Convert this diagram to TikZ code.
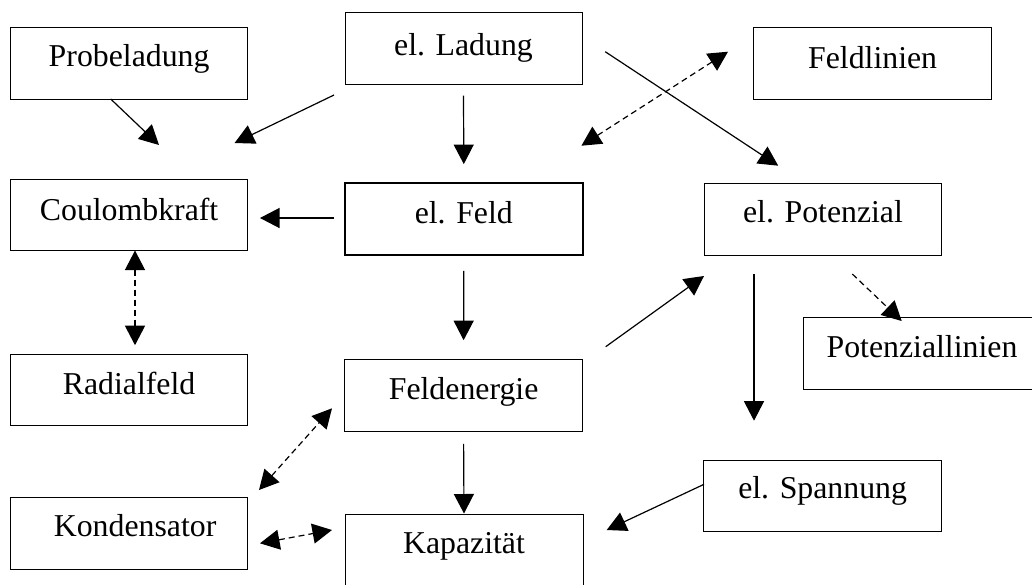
\documentclass[tikz,border=0pt]{standalone}
\usepackage{fontspec}
\setmainfont{Liberation Serif}
\usetikzlibrary{arrows.meta}
\begin{document}
\begin{tikzpicture}[x=1pt,y=-1pt,
  box/.style={draw, line width=1pt, rectangle, inner xsep=0pt, inner ysep=0pt, anchor=base,
    font=\fontsize{31.8}{36}\selectfont},
  tip/.tip={Triangle[length=19.5pt,width=20pt]},
  arr/.style={line width=1.2pt, -tip},
  darr/.style={line width=1.2pt, dash pattern=on 6pt off 4pt, tip-tip},
  sdarr/.style={line width=1.2pt, dash pattern=on 6pt off 4pt, -tip}]
\useasboundingbox (0,0) rectangle (1032,584);
\clip (0,0) rectangle (1032,584);
\fill[white] (0,0) rectangle (1032,584);

% boxes
\node[box, minimum width=236.8pt, text height=38.3pt, text depth=33pt] (probe) at (129.1,66) {Probeladung};
\node[box, minimum width=237pt, text height=42.3pt, text depth=29.3pt] (lad) at (463.5,55) {el. Ladung};
\node[box, minimum width=237.6pt, text height=40.3pt, text depth=31pt] (feldl) at (872.6,68) {Feldlinien};
\node[box, minimum width=236.8pt, text height=41pt, text depth=30pt] (coul) at (129.1,220) {Coulombkraft};
\node[box, line width=1.8pt, minimum width=237.7pt, text height=40pt, text depth=32pt] (feld) at (463.8,223) {el. Feld};
\node[box, minimum width=237.5pt, text height=39pt, text depth=33pt] (pot) at (823,222) {el. Potenzial};
\node[box, minimum width=236.8pt, text height=40pt, text depth=31.7pt] (radial) at (129.1,394) {Radialfeld};
\node[box, minimum width=237.3pt, text height=40.2pt, text depth=31.5pt] (energ) at (463.6,399.5) {Feldenergie};
\node[box, minimum width=237.5pt, text height=40pt, text depth=31.7pt] (potl) at (922,357.3) {Potenziallinien};
\node[box, minimum width=237.3pt, text height=38.3pt, text depth=33.4pt] (span) at (822.6,498.3) {el. Spannung};
\node[box, minimum width=236.8pt, text height=39.4pt, text depth=32.3pt] (kond) at (129.1,536.7) {\hspace*{12pt}Kondensator};
\node[box, minimum width=238pt, text height=39.3pt, text depth=32.4pt] (kap) at (464,553.3) {Kapazität};

% free ends of connectors
\coordinate (probeS) at (110.7,99);
\coordinate (coulT1) at (159,145);
\coordinate (ladW) at (334,95);
\coordinate (coulT2) at (234.6,143);
\coordinate (ladE) at (605.2,51.7);
\coordinate (potT) at (778.2,165.7);
\coordinate (feldNE) at (581.4,145.7);
\coordinate (feldlW) at (728,51.7);
\coordinate (feldW) at (334,218);
\coordinate (coulE) at (260,218);
\coordinate (energE) at (605.7,346.7);
\coordinate (potW) at (704,276);
\coordinate (potS) at (754,274);
\coordinate (spanT) at (754,420.7);
\coordinate (potSE) at (852.3,274);
\coordinate (potlT) at (901.7,321);
\coordinate (kondNE) at (259,490);
\coordinate (energW) at (332,408.3);
\coordinate (kondE) at (260,543.3);
\coordinate (kapW) at (332,530);
\coordinate (spanW) at (704,484.3);
\coordinate (kapE) at (606.7,530);

% connectors
\draw[arr] (probeS) -- (coulT1);
\draw[arr] (ladW) -- (coulT2);
\draw[arr] ([yshift=-10.7pt]lad.south) -- ([yshift=18pt]feld.north);
\draw[arr] (ladE) -- (potT);
\draw[darr] (feldNE) -- (feldlW);
\draw[arr] (feldW) -- (coulE);
\draw[darr] ([xshift=5.9pt]coul.south) -- ([yshift=8.3pt,xshift=5.9pt]radial.north);
\draw[arr] ([yshift=-15pt]feld.south) -- ([yshift=18.6pt]energ.north);
\draw[arr] (energE) -- (potW);
\draw[arr] (potS) -- (spanT);
\draw[sdarr] (potSE) -- (potlT);
\draw[darr] (kondNE) -- (energW);
\draw[arr] ([yshift=-12.3pt]energ.south) -- (kap.north);
\draw[arr] (spanW) -- (kapE);
\draw[darr] (kondE) -- (kapW);
\end{tikzpicture}
\end{document}
